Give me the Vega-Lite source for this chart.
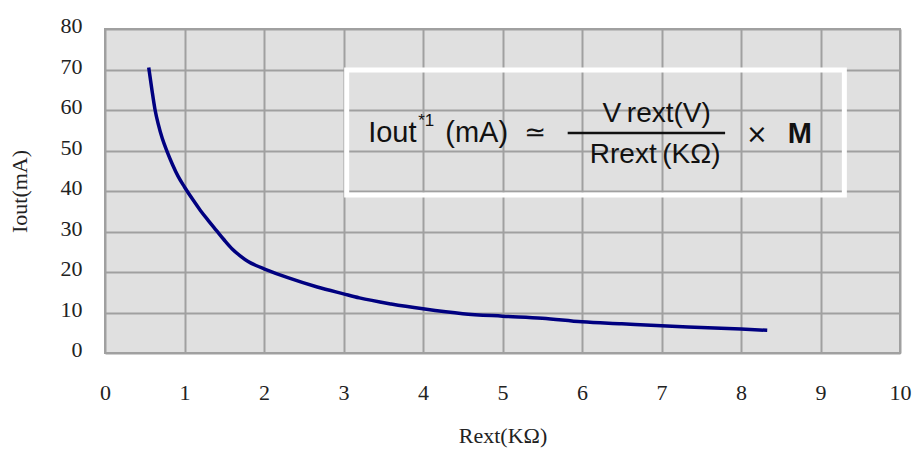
{
  "$schema": "https://vega.github.io/schema/vega-lite/v6.json",
  "autosize": {"type": "none"},
  "padding": {"left": 105, "top": 29, "right": 12, "bottom": 99},
  "width": 795,
  "height": 324,
  "background": "white",
  "config": {
    "view": {"fill": "#e0e0e0", "stroke": "#a0a0a0", "strokeWidth": 2},
    "axis": {
      "labelFont": "Liberation Serif",
      "titleFont": "Liberation Serif",
      "labelFontSize": 22,
      "titleFontSize": 22,
      "titleFontWeight": "normal",
      "labelColor": "#222",
      "titleColor": "#222",
      "gridColor": "#a0a0a0",
      "gridWidth": 2,
      "gridOpacity": 1,
      "domain": false,
      "ticks": false,
      "labelFlush": false
    }
  },
  "layer": [
    {
      "data": {"values": [
        {"r": 0.55, "i": 70.5}, {"r": 0.59, "i": 65}, {"r": 0.63, "i": 60}, {"r": 0.67, "i": 56.5},
        {"r": 0.72, "i": 53}, {"r": 0.78, "i": 49.8}, {"r": 0.85, "i": 46.5}, {"r": 0.92, "i": 43.6},
        {"r": 1.0, "i": 41}, {"r": 1.1, "i": 38}, {"r": 1.2, "i": 35.2}, {"r": 1.3, "i": 32.7},
        {"r": 1.4, "i": 30.3}, {"r": 1.5, "i": 27.9}, {"r": 1.6, "i": 25.7}, {"r": 1.7, "i": 24.0},
        {"r": 1.8, "i": 22.6}, {"r": 1.9, "i": 21.6}, {"r": 2.0, "i": 20.8}, {"r": 2.3, "i": 18.6},
        {"r": 2.67, "i": 16.3}, {"r": 3.0, "i": 14.6}, {"r": 3.2, "i": 13.6}, {"r": 3.6, "i": 12.1},
        {"r": 4.0, "i": 10.9}, {"r": 4.5, "i": 9.7}, {"r": 5.0, "i": 9.1}, {"r": 5.5, "i": 8.6},
        {"r": 6.0, "i": 7.7}, {"r": 6.5, "i": 7.2}, {"r": 7.0, "i": 6.7}, {"r": 7.5, "i": 6.3},
        {"r": 8.0, "i": 5.9}, {"r": 8.33, "i": 5.6}
      ]},
      "mark": {"type": "line", "color": "#000080", "strokeWidth": 3.5, "interpolate": "monotone"},
      "encoding": {
        "x": {"field": "r", "type": "quantitative",
              "scale": {"domain": [0, 10], "nice": false},
              "axis": {"title": "Rext(KΩ)", "format": "d", "values": [0,1,2,3,4,5,6,7,8,9,10], "labelPadding": 29, "titlePadding": 22}},
        "y": {"field": "i", "type": "quantitative",
              "scale": {"domain": [0, 80], "nice": false},
              "axis": {"title": "Iout(mA)", "format": "d", "values": [0,10,20,30,40,50,60,70,80], "labelPadding": 23, "labelOffset": -3.5, "titlePadding": 29}}
      }
    },
    {
      "data": {"values": [{"x1": 3.04, "x2": 9.3, "y1": 69.9, "y2": 39.0}]},
      "mark": {"type": "rect", "fill": null, "fillOpacity": 0, "stroke": "white", "strokeWidth": 5},
      "encoding": {
        "x": {"field": "x1", "type": "quantitative"},
        "x2": {"field": "x2"},
        "y": {"field": "y1", "type": "quantitative"},
        "y2": {"field": "y2"}
      }
    },
    {
      "data": {"values": [{"x1": 5.82, "x2": 7.8, "y": 54.3}]},
      "mark": {"type": "rule", "color": "#111", "strokeWidth": 2.5},
      "encoding": {
        "x": {"field": "x1", "type": "quantitative"},
        "x2": {"field": "x2"},
        "y": {"field": "y", "type": "quantitative"}
      }
    },
    {
      "data": {"values": [
        {"x": 3.31, "y": 52.1, "t": "Iout"},
        {"x": 4.28, "y": 52.1, "t": "(mA)"}
      ]},
      "mark": {"type": "text", "font": "Liberation Sans", "fontSize": 29, "align": "left", "baseline": "alphabetic", "color": "#111"},
      "encoding": {
        "x": {"field": "x", "type": "quantitative"},
        "y": {"field": "y", "type": "quantitative"},
        "text": {"field": "t"}
      }
    },
    {
      "data": {"values": [{"x": 3.94, "y": 56.0, "t": "*1"}]},
      "mark": {"type": "text", "font": "Liberation Sans", "fontSize": 17, "align": "left", "baseline": "alphabetic", "color": "#111"},
      "encoding": {
        "x": {"field": "x", "type": "quantitative"},
        "y": {"field": "y", "type": "quantitative"},
        "text": {"field": "t"}
      }
    },
    {
      "data": {"values": [
        {"x": 6.94, "y": 57.0, "t": "V\u2009rext(V)"},
        {"x": 6.92, "y": 46.9, "t": "Rrext\u2009(KΩ)"}
      ]},
      "mark": {"type": "text", "font": "Liberation Sans", "fontSize": 28, "align": "center", "baseline": "alphabetic", "color": "#111"},
      "encoding": {
        "x": {"field": "x", "type": "quantitative"},
        "y": {"field": "y", "type": "quantitative"},
        "text": {"field": "t"}
      }
    },
    {
      "data": {"values": [
        {"x": 5.41, "y": 54.3, "t": "≃"},
        {"x": 8.2, "y": 53.8, "t": "×"}
      ]},
      "mark": {"type": "text", "font": "DejaVu Sans", "fontSize": 26, "align": "center", "baseline": "middle", "color": "#111"},
      "encoding": {
        "x": {"field": "x", "type": "quantitative"},
        "y": {"field": "y", "type": "quantitative"},
        "text": {"field": "t"}
      }
    },
    {
      "data": {"values": [{"x": 8.74, "y": 51.9, "t": "M"}]},
      "mark": {"type": "text", "font": "Liberation Sans", "fontSize": 29, "fontWeight": "bold", "align": "center", "baseline": "alphabetic", "color": "#111"},
      "encoding": {
        "x": {"field": "x", "type": "quantitative"},
        "y": {"field": "y", "type": "quantitative"},
        "text": {"field": "t"}
      }
    }
  ]
}
